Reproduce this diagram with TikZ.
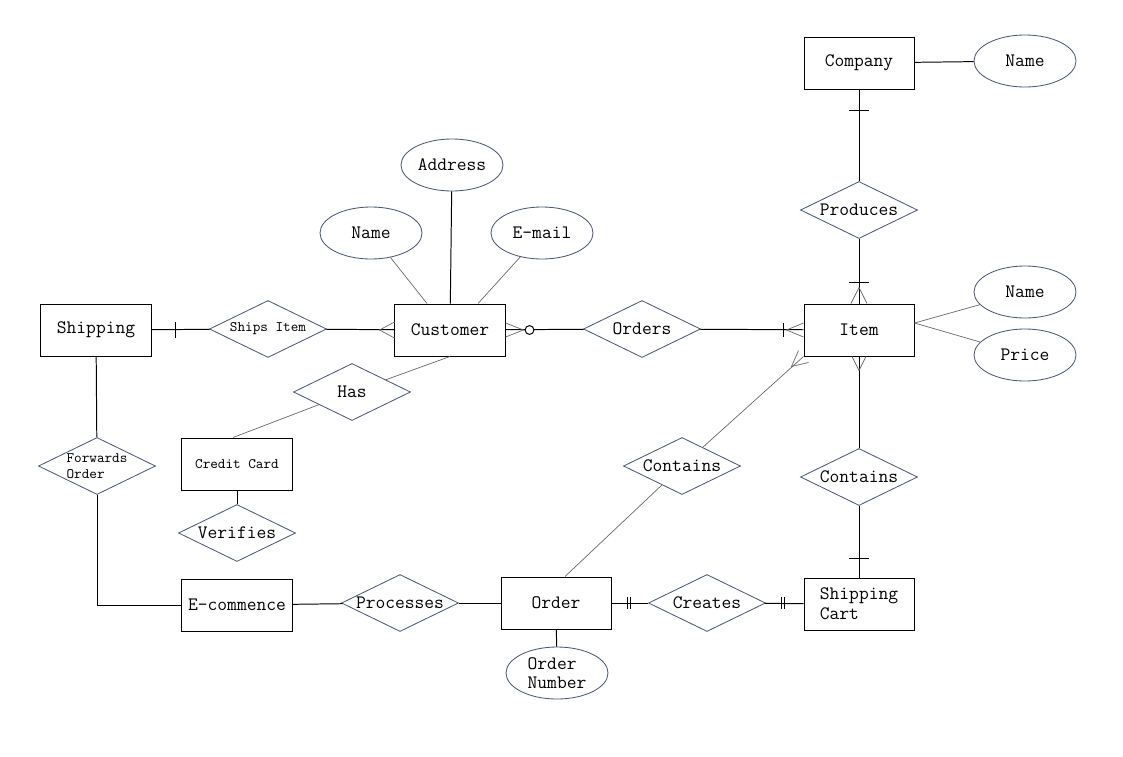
\documentclass[tikz,border=0pt]{standalone}
\usepackage{fontspec}
\usetikzlibrary{shapes.geometric,calc}
\definecolor{slate}{RGB}{75,90,115}
\definecolor{lightline}{RGB}{105,105,105}

\begin{document}
\begin{tikzpicture}[x=0.025cm,y=-0.025cm,
    entity/.style={draw,line width=0.7pt,minimum width=2.75cm,minimum height=1.3cm,inner sep=0pt,
                   font=\ttfamily\fontsize{13.5}{14}\selectfont},
    attr/.style={draw=slate,ellipse,line width=0.6pt,minimum width=2.55cm,minimum height=1.3cm,inner sep=0pt,
                 font=\ttfamily\fontsize{13.5}{14}\selectfont},
    rel/.style={draw=slate,diamond,aspect=2.05,line width=0.6pt,minimum width=2.925cm,minimum height=1.425cm,
                inner sep=0pt,font=\ttfamily\fontsize{13.5}{14}\selectfont},
    smalltext/.style={font=\ttfamily\fontsize{10.3}{11.5}\selectfont},
    link/.style={line width=0.7pt},
    faint/.style={line width=0.5pt,lightline}]
    \useasboundingbox (0,0) rectangle (1123,756);

    %entities
    \node[entity] (comp) at (859,63) {Company};
    \node[entity] (item) at (859,330) {Item};
    \node[entity] (cust) at (450,330) {Customer};
    \node[entity] (ship) at (96,330) {Shipping};
    \node[entity,smalltext] (card) at (237,464) {Credit Card};
    \node[entity] (ecom) at (237,605) {E-commence};
    \node[entity] (order) at (556,603) {Order};
    \node[entity,align=left] (cart) at (859,604) {Shipping\\Cart};

    %attributes
    \node[attr] (compname) at (1025,61) {Name};
    \node[attr] (itemname) at (1025,292) {Name};
    \node[attr] (price) at (1025,355) {Price};
    \node[attr] (custname) at (371,233) {Name};
    \node[attr] (addr) at (452,165) {Address};
    \node[attr] (email) at (542,233) {E-mail};
    \node[attr,align=left] (onum) at (557,673) {Order\\Number};

    %relations
    \node[rel] (prod) at (859,210) {Produces};
    \node[rel] (orders) at (642,329) {Orders};
    \node[rel,smalltext] (shipsitem) at (268,329) {Ships Item};
    \node[rel] (has) at (352,392) {Has};
    \node[rel] (verif) at (237,533) {Verifies};
    \node[rel,smalltext,align=left] (fwd) at (97,466) {Forwards\\Order};
    \node[rel] (proc) at (400,603) {Processes};
    \node[rel] (creates) at (707,603) {Creates};
    \node[rel] (contL) at (682,466) {Contains};
    \node[rel] (contR) at (859,477) {Contains};

    %company
    \draw[link] (comp) -- (compname);
    \draw[link] (comp) -- (prod);
    \draw[link] (comp.south) ++(-10,21) -- ++(20,0);
    \draw[link] (prod) -- (item);
    \draw[link] (item.north) ++(-10,-21) -- ++(20,0);
    \draw[faint] (item.north) ++(-8,0) -- ++(8,-16) -- ++(8,16);

    %item
    \draw[faint] ($(item.east)+(0,-7)$) -- (itemname);
    \draw[faint] ($(item.east)+(0,-7)$) -- (price);

    %orders
    \draw[link] (cust) -- (orders);
    \draw[faint] (cust.east) ++(0,-7) -- ++(18,7) -- ++(-18,7);
    \draw[link,fill=white] (cust.east) ++(24,0) circle[radius=0.11cm];
    \draw[link] (orders) -- (item);
    \draw[link] (item.west) ++(-20,-7) -- ++(0,14);
    \draw[faint] (item.west) ++(0,-7) -- ++(-17,7) -- ++(17,7);

    %ships item
    \draw[link] (ship) -- (shipsitem);
    \draw[link] (ship.east) ++(24,-8) -- ++(0,16);
    \draw[link] (shipsitem) -- (cust);
    \draw[faint] (cust.west) ++(0,-8) -- ++(-15,8) -- ++(15,8);

    %customer
    \draw[faint] (custname) -- ($(cust.north)+(-23,0)$);
    \draw[link] (addr) -- (cust);
    \draw[faint] (email) -- ($(cust.north)+(28,0)$);
    \draw[faint] (cust.south) -- (has);
    \draw[faint] (has) -- ($(card.north)+(-4,0)$);
    \draw[link] (card) -- (verif);

    %forwards order
    \draw[link] (ship) -- (fwd);
    \draw[link] (fwd.south) |- (ecom.west);
    \draw[link] (ecom) -- (proc);
    \draw[link] (proc) -- (order);
    \draw[link] (order) -- (onum);

    %creates
    \draw[link] (order) -- (creates);
    \draw[link] (order.east) ++(16,-6) -- ++(0,12) ++(3,0) -- ++(0,-12);
    \draw[link] (creates) -- (cart);
    \draw[link] (creates.east) ++(16,-6) -- ++(0,12) ++(3,0) -- ++(0,-12);

    %contains
    \draw[link] (item) -- (contR);
    \draw[faint] (item.south) ++(-7,0) -- ++(7,14) -- ++(7,-14);
    \draw[link] (contR) -- (cart);
    \draw[link] (cart.north) ++(-10,-19) -- ++(20,0);
    \draw[faint] ($(order.north)+(9,0)$) -- (contL);
    \draw[faint] (contL) -- (item.south west);
    \draw[faint] (item.south west) ++(-5,-6) -- ++(-7,16) -- ++(17,-4);
\end{tikzpicture}
\end{document}
